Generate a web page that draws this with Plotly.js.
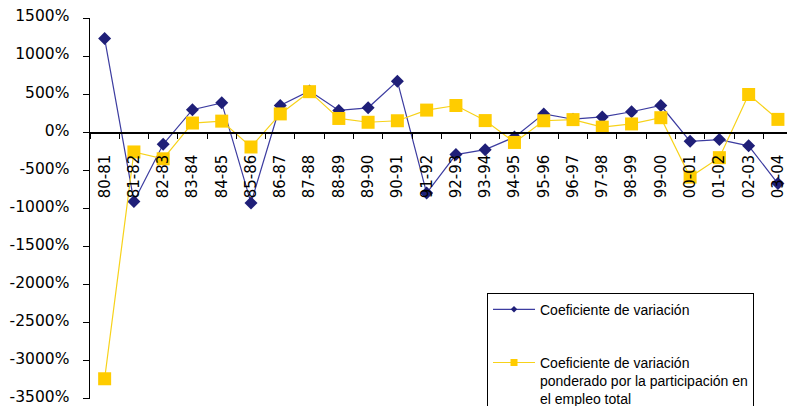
<!DOCTYPE html>
<html>
<head>
<meta charset="utf-8">
<script src="https://cdn.plot.ly/plotly-3.0.1.min.js"></script>
<style>
  html, body { margin: 0; padding: 0; background: #ffffff; }
  #chart { width: 787px; height: 406px; }
</style>
</head>
<body>
<div id="chart"></div>
<script>
// Periods (school-year style labels)
const periods = ['80-81', '81-82', '82-83', '83-84', '84-85', '85-86', '86-87', '87-88',
                 '88-89', '89-90', '90-91', '91-92', '92-93', '93-94', '94-95', '95-96',
                 '96-97', '97-98', '98-99', '99-00', '00-01', '01-02', '02-03', '03-04'];

// Coeficiente de variación (%)
const coefVariacion = [1230, -910, -160, 295, 385, -930, 350, 540,
                       285, 320, 670, -800, -295, -230, -65, 240,
                       170, 200, 268, 350, -120, -98, -180, -675];

// Coeficiente de variación ponderado por la participación en el empleo total (%)
const coefPonderado = [-3240, -260, -350, 120, 145, -195, 240, 532,
                       180, 130, 150, 290, 350, 152, -135, 150,
                       165, 66, 108, 190, -590, -335, 495, 168];

// Value axis ticks
const yTickVals = [1500, 1000, 500, 0, -500, -1000, -1500, -2000, -2500, -3000, -3500];
const yTickText = yTickVals.map(v => v + '%');

const serieNames = [
  'Coeficiente de variación',
  'Coeficiente de variación<br>ponderado por la participación en<br>el empleo total'
];

const navy = '#1f1f78';
const navyLine = '#3c3ca0';
const gold = '#ffcc00';
const goldLine = '#f7d21a';

// value axis spans yMin..yMax; the category axis crosses it at zero
const yMin = -3506, yMax = 1500;
const crossAt = (0 - yMin) / (yMax - yMin);

const traces = [
  {
    x: periods, y: coefVariacion, type: 'scatter', mode: 'lines+markers',
    line: { color: navyLine, width: 1.2 },
    marker: { symbol: 'diamond', size: 10, color: navy },
    showlegend: false, hoverinfo: 'x+y'
  },
  {
    x: periods, y: coefPonderado, type: 'scatter', mode: 'lines+markers',
    line: { color: goldLine, width: 1.2 },
    marker: { symbol: 'square', size: 13, color: gold },
    showlegend: false, hoverinfo: 'x+y'
  },
  // legend keys with small symbols
  {
    x: [null], y: [null], type: 'scatter', mode: 'lines+markers', name: serieNames[0],
    legendgroup: 'g1',
    line: { color: navyLine, width: 1.2 },
    marker: { symbol: 'diamond', size: 5, color: navy }
  },
  {
    x: [null], y: [null], type: 'scatter', mode: 'lines+markers', name: serieNames[1],
    legendgroup: 'g2',
    line: { color: goldLine, width: 1.2 },
    marker: { symbol: 'square', size: 7, color: gold }
  }
];

const layout = {
  width: 787, height: 406,
  margin: { l: 90, r: 0, t: 18, b: 7, autoexpand: false },
  paper_bgcolor: '#ffffff', plot_bgcolor: '#ffffff',
  showlegend: true,
  legend: {
    x: 0.5696, y: 0.279, xanchor: 'left', yanchor: 'top',
    bgcolor: '#ffffff', bordercolor: '#000000', borderwidth: 1,
    font: { family: 'Liberation Sans, Arial, sans-serif', size: 14, color: '#000000' },
    itemwidth: 42, valign: 'top', traceorder: 'grouped', tracegroupgap: 32
  },
  xaxis: {
    type: 'category', categoryorder: 'array', categoryarray: periods,
    range: [-0.5, 23.31],
    anchor: 'free', position: crossAt,
    showline: true, linecolor: '#000000', linewidth: 1.5,
    ticks: 'outside', ticklen: 5, tickwidth: 1, tickcolor: '#000000',
    tickson: 'boundaries', tickangle: -90,
    tickfont: { family: 'DejaVu Sans, Verdana, sans-serif', size: 15, color: '#000000' },
    ticklabelstandoff: 15,
    showgrid: false, zeroline: false, fixedrange: true
  },
  yaxis: {
    range: [yMin, yMax],
    tickmode: 'array', tickvals: yTickVals, ticktext: yTickText,
    showline: true, linecolor: '#000000', linewidth: 1.5,
    ticks: 'outside', ticklen: 6, tickwidth: 1, tickcolor: '#000000',
    tickfont: { family: 'DejaVu Sans, Verdana, sans-serif', size: 15.5, color: '#000000' },
    ticklabelstandoff: 10, ticklabelshift: -2, ticklabeloverflow: 'allow',
    showgrid: false, zeroline: false, fixedrange: true
  }
};

Plotly.newPlot('chart', traces, layout, { displayModeBar: false, staticPlot: true });
</script>
</body>
</html>
